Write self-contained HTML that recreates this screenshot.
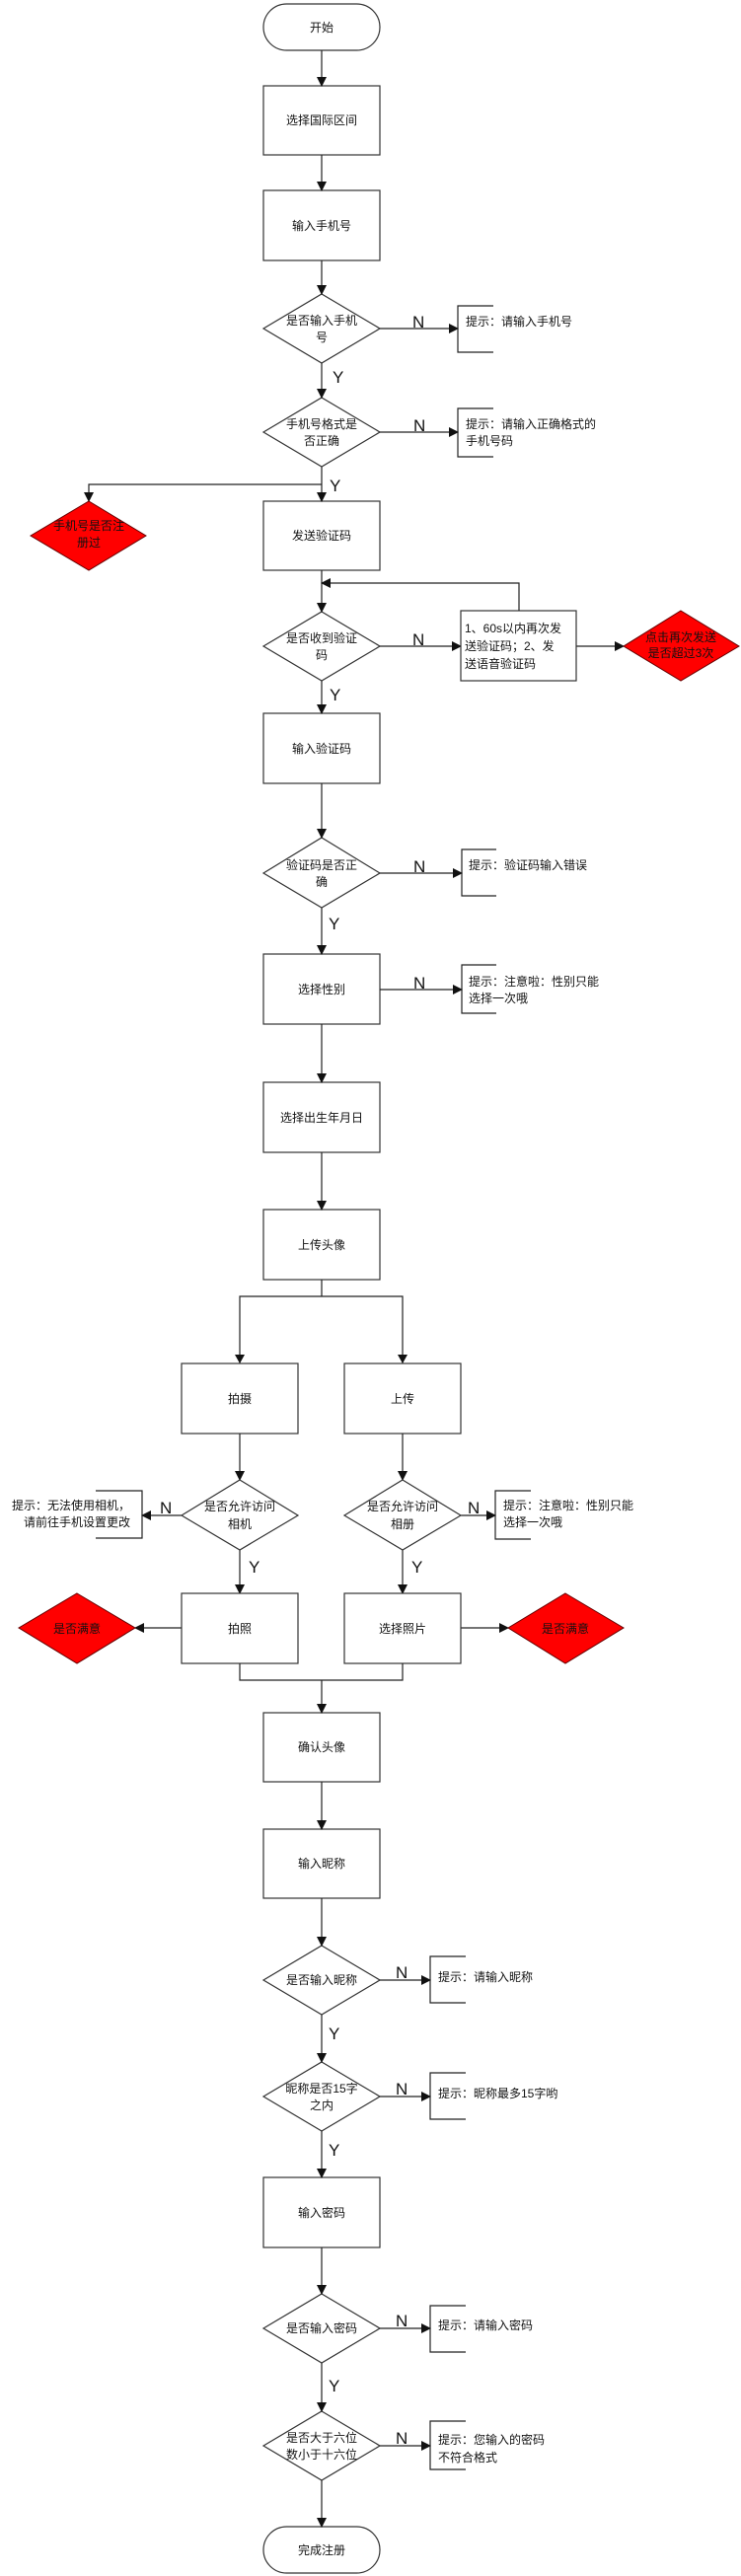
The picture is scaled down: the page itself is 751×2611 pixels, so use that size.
<!DOCTYPE html>
<html><head><meta charset="utf-8"><style>
html,body{margin:0;padding:0;background:#fff;}
svg{display:block;}
text{font-family:"Liberation Sans","Noto Sans CJK SC",sans-serif;font-size:12px;fill:#111;}
.l{font-size:17px;}
.s{stroke:#222;stroke-width:1.2;fill:none;}
.b{stroke:#333;stroke-width:1.2;fill:#fff;}
.r{stroke:#600;stroke-width:1;fill:#ff0000;}
</style></head><body>
<svg width="751" height="2611" viewBox="0 0 751 2611" xmlns="http://www.w3.org/2000/svg">
<defs><marker id="a" markerWidth="10" markerHeight="10" refX="9" refY="5" orient="auto" markerUnits="userSpaceOnUse"><path d="M0,0 L10,5 L0,10 z" fill="#111"/></marker></defs>

<rect x="267" y="4" width="118" height="47" rx="23.5" class="b"/>
<text x="326" y="32" text-anchor="middle">开始</text>
<rect x="267" y="87" width="118" height="70" class="b"/><text x="326" y="126" text-anchor="middle">选择国际区间</text>
<rect x="267" y="193" width="118" height="71" class="b"/><text x="326" y="233" text-anchor="middle">输入手机号</text>
<polygon points="326,298 385,333 326,368 267,333" class="b"/><text x="326" y="329" text-anchor="middle">是否输入手机</text><text x="326" y="346" text-anchor="middle">号</text>
<polygon points="326,403 385,438 326,473 267,438" class="b"/><text x="326" y="434" text-anchor="middle">手机号格式是</text><text x="326" y="451" text-anchor="middle">否正确</text>
<rect x="267" y="508" width="118" height="70" class="b"/><text x="326" y="547" text-anchor="middle">发送验证码</text>
<polygon points="326,620 385,655 326,690 267,655" class="b"/><text x="326" y="651" text-anchor="middle">是否收到验证</text><text x="326" y="668" text-anchor="middle">码</text>
<rect x="267" y="723" width="118" height="71" class="b"/><text x="326" y="763" text-anchor="middle">输入验证码</text>
<polygon points="326,849 385,885 326,920 267,885" class="b"/><text x="326" y="881" text-anchor="middle">验证码是否正</text><text x="326" y="898" text-anchor="middle">确</text>
<rect x="267" y="967" width="118" height="71" class="b"/><text x="326" y="1007" text-anchor="middle">选择性别</text>
<rect x="267" y="1097" width="118" height="71" class="b"/><text x="326" y="1137" text-anchor="middle">选择出生年月日</text>
<rect x="267" y="1226" width="118" height="71" class="b"/><text x="326" y="1266" text-anchor="middle">上传头像</text>
<rect x="267" y="1736" width="118" height="70" class="b"/><text x="326" y="1775" text-anchor="middle">确认头像</text>
<rect x="267" y="1854" width="118" height="70" class="b"/><text x="326" y="1893" text-anchor="middle">输入昵称</text>
<polygon points="326,1972 385,2007 326,2042 267,2007" class="b"/><text x="326" y="2011" text-anchor="middle">是否输入昵称</text>
<polygon points="326,2090 385,2125 326,2160 267,2125" class="b"/><text x="326" y="2121" text-anchor="middle">昵称是否15字</text><text x="326" y="2138" text-anchor="middle">之内</text>
<rect x="267" y="2207" width="118" height="71" class="b"/><text x="326" y="2247" text-anchor="middle">输入密码</text>
<polygon points="326,2325 385,2360 326,2395 267,2360" class="b"/><text x="326" y="2364" text-anchor="middle">是否输入密码</text>
<polygon points="326,2444 385,2479 326,2514 267,2479" class="b"/><text x="326" y="2475" text-anchor="middle">是否大于六位</text><text x="326" y="2492" text-anchor="middle">数小于十六位</text>
<rect x="267" y="2561" width="118" height="47" rx="23.5" class="b"/><text x="326" y="2589" text-anchor="middle">完成注册</text>

<g class="s" marker-end="url(#a)">
<line x1="326" y1="51" x2="326" y2="87"/>
<line x1="326" y1="157" x2="326" y2="193"/>
<line x1="326" y1="264" x2="326" y2="298"/>
<line x1="326" y1="368" x2="326" y2="403"/>
<line x1="326" y1="473" x2="326" y2="508"/>
<line x1="326" y1="578" x2="326" y2="620"/>
<line x1="326" y1="690" x2="326" y2="723"/>
<line x1="326" y1="794" x2="326" y2="849"/>
<line x1="326" y1="920" x2="326" y2="967"/>
<line x1="326" y1="1038" x2="326" y2="1097"/>
<line x1="326" y1="1168" x2="326" y2="1226"/>
<line x1="326" y1="1703" x2="326" y2="1736"/>
<line x1="326" y1="1806" x2="326" y2="1854"/>
<line x1="326" y1="1924" x2="326" y2="1972"/>
<line x1="326" y1="2042" x2="326" y2="2090"/>
<line x1="326" y1="2160" x2="326" y2="2207"/>
<line x1="326" y1="2278" x2="326" y2="2325"/>
<line x1="326" y1="2395" x2="326" y2="2444"/>
<line x1="326" y1="2514" x2="326" y2="2561"/>
</g>
<text class="l" x="337" y="388">Y</text>
<text class="l" x="334" y="498">Y</text>
<text class="l" x="334" y="710">Y</text>
<text class="l" x="333" y="942">Y</text>
<text class="l" x="333" y="2067">Y</text>
<text class="l" x="333" y="2185">Y</text>
<text class="l" x="333" y="2424">Y</text>

<polyline points="326,491 90,491 90,508" class="s" marker-end="url(#a)"/>
<polygon points="90,508 148,543 90,578 31,543" class="r"/>
<text x="90" y="537" text-anchor="middle">手机号是否注</text><text x="90" y="554" text-anchor="middle">册过</text>

<g class="s" marker-end="url(#a)">
<line x1="385" y1="333" x2="464" y2="333"/>
<line x1="385" y1="438" x2="464" y2="438"/>
<line x1="385" y1="655" x2="467" y2="655"/>
<line x1="584" y1="655" x2="632" y2="655"/>
<line x1="385" y1="885" x2="468" y2="885"/>
<line x1="385" y1="1003" x2="468" y2="1003"/>
<line x1="385" y1="2007" x2="436" y2="2007"/>
<line x1="385" y1="2125" x2="436" y2="2125"/>
<line x1="385" y1="2360" x2="436" y2="2360"/>
<line x1="385" y1="2479" x2="436" y2="2479"/>
</g>
<text class="l" x="418" y="332">N</text>
<text class="l" x="419" y="437">N</text>
<text class="l" x="418" y="654">N</text>
<text class="l" x="419" y="884">N</text>
<text class="l" x="419" y="1002">N</text>
<text class="l" x="401" y="2005">N</text>
<text class="l" x="401" y="2123">N</text>
<text class="l" x="401" y="2358">N</text>
<text class="l" x="401" y="2477">N</text>

<g class="s">
<polyline points="500,310 464,310 464,357 500,357"/>
<polyline points="500,414 464,414 464,463 500,463"/>
<polyline points="503,861 468,861 468,908 503,908"/>
<polyline points="503,978 468,978 468,1027 503,1027"/>
<polyline points="472,1983 436,1983 436,2030 472,2030"/>
<polyline points="472,2101 436,2101 436,2148 472,2148"/>
<polyline points="472,2337 436,2337 436,2384 472,2384"/>
<polyline points="472,2454 436,2454 436,2503 472,2503"/>
</g>
<text x="472" y="330">提示：请输入手机号</text>
<text x="472" y="434">提示：请输入正确格式的</text><text x="472" y="451">手机号码</text>
<text x="475" y="881">提示：验证码输入错误</text>
<text x="475" y="999">提示：注意啦：性别只能</text><text x="475" y="1016">选择一次哦</text>
<text x="444" y="2008">提示：请输入昵称</text>
<text x="444" y="2126">提示：昵称最多15字哟</text>
<text x="444" y="2361">提示：请输入密码</text>
<text x="444" y="2477">提示：您输入的密码</text><text x="444" y="2495">不符合格式</text>

<rect x="467" y="619" width="117" height="71" class="b"/>
<text x="471" y="641">1、60s以内再次发</text><text x="471" y="659">送验证码；2、发</text><text x="471" y="677">送语音验证码</text>
<polyline points="526,619 526,591 326,591" class="s" marker-end="url(#a)"/>
<polygon points="690,619 749,655 690,690 632,655" class="r"/>
<text x="690" y="650" text-anchor="middle">点击再次发送</text><text x="690" y="666" text-anchor="middle">是否超过3次</text>

<line x1="326" y1="1297" x2="326" y2="1314" class="s"/>
<polyline points="243,1382 243,1314 408,1314 408,1382" class="s"/>
<path d="M238,1373 L243,1382 L248,1373 z M403,1373 L408,1382 L413,1373 z" fill="#111"/>
<rect x="184" y="1382" width="118" height="71" class="b"/><text x="243" y="1422" text-anchor="middle">拍摄</text>
<rect x="349" y="1382" width="118" height="71" class="b"/><text x="408" y="1422" text-anchor="middle">上传</text>
<g class="s" marker-end="url(#a)">
<line x1="243" y1="1453" x2="243" y2="1500"/>
<line x1="408" y1="1453" x2="408" y2="1500"/>
<line x1="243" y1="1571" x2="243" y2="1615"/>
<line x1="408" y1="1571" x2="408" y2="1615"/>
<line x1="184" y1="1536" x2="144" y2="1536"/>
<line x1="467" y1="1536" x2="502" y2="1536"/>
<line x1="184" y1="1650" x2="137" y2="1650"/>
<line x1="467" y1="1650" x2="515" y2="1650"/>
</g>
<polygon points="243,1500 302,1536 243,1571 184,1536" class="b"/><text x="243" y="1531" text-anchor="middle">是否允许访问</text><text x="243" y="1549" text-anchor="middle">相机</text>
<polygon points="408,1500 467,1536 408,1571 349,1536" class="b"/><text x="408" y="1531" text-anchor="middle">是否允许访问</text><text x="408" y="1549" text-anchor="middle">相册</text>
<text class="l" x="162" y="1534">N</text>
<text class="l" x="474" y="1534">N</text>
<text class="l" x="252" y="1594">Y</text>
<text class="l" x="417" y="1594">Y</text>
<g class="s">
<polyline points="97,1511 144,1511 144,1559 97,1559"/>
<polyline points="538,1511 502,1511 502,1560 538,1560"/>
</g>
<text x="132" y="1530" text-anchor="end">提示：无法使用相机，</text><text x="132" y="1547" text-anchor="end">请前往手机设置更改</text>
<text x="510" y="1530">提示：注意啦：性别只能</text><text x="510" y="1547">选择一次哦</text>
<rect x="184" y="1615" width="118" height="71" class="b"/><text x="243" y="1655" text-anchor="middle">拍照</text>
<rect x="349" y="1615" width="118" height="71" class="b"/><text x="408" y="1655" text-anchor="middle">选择照片</text>
<polygon points="78,1615 137,1650 78,1686 19,1650" class="r"/><text x="78" y="1655" text-anchor="middle">是否满意</text>
<polygon points="573,1615 632,1650 573,1686 515,1650" class="r"/><text x="573" y="1655" text-anchor="middle">是否满意</text>
<polyline points="243,1686 243,1703 408,1703 408,1686" class="s"/>
</svg>
</body></html>
